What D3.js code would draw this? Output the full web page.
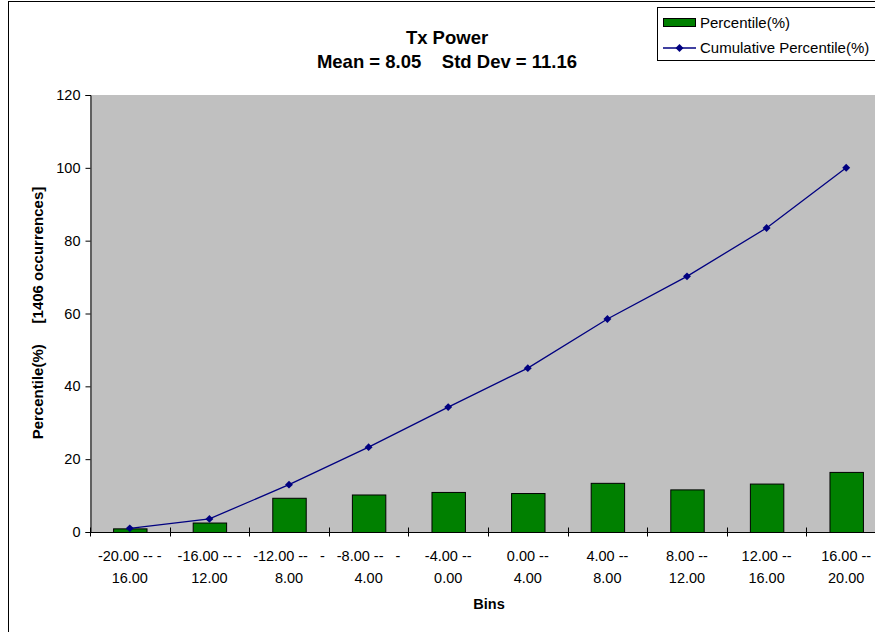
<!DOCTYPE html>
<html><head><meta charset="utf-8">
<script src="https://cdn.jsdelivr.net/npm/d3@7"></script>
<style>body{margin:0;background:#fff}svg{display:block;font-family:"Liberation Sans",Arial,sans-serif}</style>
</head><body>
<svg id="c" width="875" height="632"></svg>
<script>
const binsTop = ["-20.00 -- -","-16.00 -- -","-12.00 --   -","-8.00 --   -","-4.00 --","0.00 --","4.00 --","8.00 --","12.00 --","16.00 --"];
const binsBottom = ["16.00","12.00","8.00","4.00","0.00","4.00","8.00","12.00","16.00","20.00"];
const categories = binsTop.map((t,i)=>t+" "+binsBottom[i]);
const percentile = [1.0,2.6,9.4,10.3,11.0,10.7,13.5,11.7,13.3,16.5];
const cumulative = [1.0,3.6,13.0,23.3,34.3,45.0,58.5,70.2,83.5,100.0];
const yTicks = [0,20,40,60,80,100,120];
const title1 = "Tx Power";
const title2 = "Mean = 8.05    Std Dev = 11.16";

const svg = d3.select("#c");
const L=90, R=886, T=95, B=532;
const FS = 14.5;

svg.append("rect").attr("x",8.5).attr("y",1.5).attr("width",1000).attr("height",1000)
  .attr("fill","#fff").attr("stroke","#000").attr("stroke-width",1);

const x = d3.scaleBand().domain(categories).range([L,R]).paddingInner(0.58).paddingOuter(0.29);
const xb = d3.scaleBand().domain(categories).range([L,R]);
const y = d3.scaleLinear().domain([0,120]).range([B,T]);

svg.append("rect").attr("x",L).attr("y",T).attr("width",R-L).attr("height",B-T).attr("fill","#C0C0C0");

svg.selectAll("rect.bar").data(percentile).join("rect").attr("class","bar")
  .attr("x",(d,i)=>x(categories[i])+0.5).attr("width",x.bandwidth())
  .attr("y",d=>y(d)+0.5).attr("height",d=>B-y(d))
  .attr("fill","#008000").attr("stroke","#000").attr("stroke-width",1);

const line = d3.line().x((d,i)=>xb(categories[i])+xb.bandwidth()/2).y(d=>y(d));
svg.append("path").datum(cumulative).attr("d",line).attr("fill","none").attr("stroke","#000080").attr("stroke-width",1.3);
const diamond = d3.symbol().type(d3.symbolDiamond2).size(40);
svg.selectAll("path.mk").data(cumulative).join("path").attr("class","mk")
  .attr("d",diamond).attr("transform",(d,i)=>`translate(${xb(categories[i])+xb.bandwidth()/2},${y(d)})`)
  .attr("fill","#000080");

// Y axis
const ya = svg.append("g").attr("transform",`translate(${L+0.5},0)`)
  .call(d3.axisLeft(y).tickValues(yTicks).tickSize(5).tickPadding(5));
ya.selectAll("text").attr("font-size",FS).attr("fill","#000").style("font-family","Liberation Sans, Arial, sans-serif");
ya.selectAll("line,path").attr("stroke","#000");

// X axis
const xa = svg.append("g").attr("transform",`translate(0,${B+0.5})`);
xa.append("line").attr("x1",L).attr("x2",R).attr("stroke","#000");
const edges = categories.map(c=>xb(c)).concat([R]);
xa.selectAll("line.tk").data(edges).join("line").attr("class","tk")
  .attr("x1",d=>Math.round(d)+0.5).attr("x2",d=>Math.round(d)+0.5).attr("y1",-5).attr("y2",4).attr("stroke","#000");
const lab = xa.selectAll("text.xl").data(categories).join("text").attr("class","xl")
  .attr("text-anchor","middle").attr("font-size",FS).attr("fill","#000").attr("xml:space","preserve");
lab.append("tspan").attr("x",(d)=>xb(d)+xb.bandwidth()/2).attr("y",28).text((d,i)=>binsTop[i]);
lab.append("tspan").attr("x",(d)=>xb(d)+xb.bandwidth()/2).attr("y",50).text((d,i)=>binsBottom[i]);

// Titles
svg.append("text").attr("x",447).attr("y",44).attr("text-anchor","middle").attr("font-size",18.5).attr("font-weight","bold").text(title1);
svg.append("text").attr("x",447).attr("y",68).attr("text-anchor","middle").attr("font-size",18.5).attr("font-weight","bold").attr("xml:space","preserve").text(title2);
svg.append("text").attr("x",489).attr("y",609).attr("text-anchor","middle").attr("font-size",FS).attr("font-weight","bold").text("Bins");
svg.append("text").attr("transform","translate(43,313) rotate(-90)").attr("text-anchor","middle").attr("font-size",15).attr("font-weight","bold").attr("xml:space","preserve").text("Percentile(%)     [1406 occurrences]");

// Legend
const lg = svg.append("g");
lg.append("rect").attr("x",657.5).attr("y",7.5).attr("width",300).attr("height",53).attr("fill","#fff").attr("stroke","#000");
lg.append("rect").attr("x",663.5).attr("y",18.5).attr("width",32).attr("height",8).attr("fill","#008000").attr("stroke","#000");
lg.append("text").attr("x",700).attr("y",27.5).attr("font-size",15).text("Percentile(%)");
lg.append("line").attr("x1",663).attr("x2",696).attr("y1",48).attr("y2",48).attr("stroke","#000080").attr("stroke-width",1.3);
lg.append("path").attr("d",diamond).attr("transform","translate(679.5,48)").attr("fill","#000080");
lg.append("text").attr("x",700).attr("y",53).attr("font-size",15).text("Cumulative Percentile(%)");
</script>
</body></html>
